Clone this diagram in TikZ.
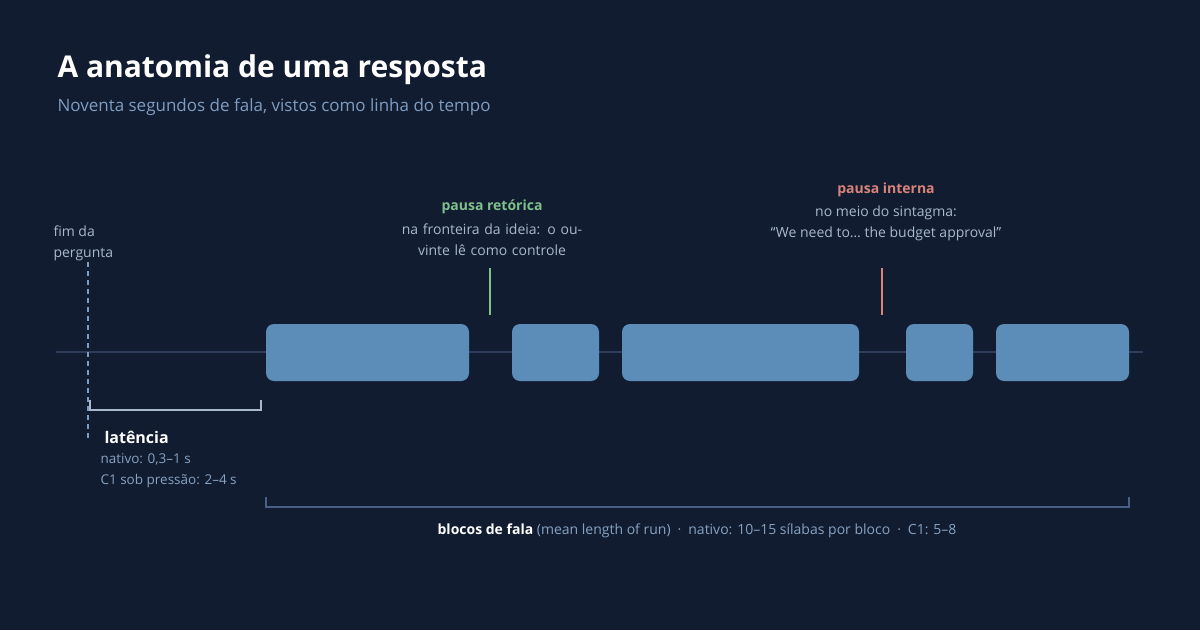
\documentclass[tikz,border=0pt]{standalone}
\usepackage{fontspec}
\setmainfont{Open Sans}
\definecolor{bgc}{HTML}{111C30}
\definecolor{blockc}{HTML}{5B8DB8}
\definecolor{axisc}{HTML}{2E3D5C}
\definecolor{textc}{HTML}{A9B8CC}
\definecolor{subc}{HTML}{7F9CC0}
\definecolor{greenc}{HTML}{7FBF8A}
\definecolor{redc}{HTML}{D9837A}
\definecolor{bracec}{HTML}{4A5F85}
\begin{document}
\begin{tikzpicture}[x=1pt,y=-1pt]
    \tikzset{block/.style={fill=blockc, rounded corners=8pt}}
    \tikzset{note/.style={text=textc, font=\fontsize{14}{21}\selectfont, align=center}}
    \tikzset{tick/.style={line width=2.5pt}}

    % background
    \fill[bgc] (0,0) rectangle (1200,630);
    \useasboundingbox (0,0) rectangle (1200,630);

    % title
    \node (title) [anchor=west, text=white, font=\fontsize{30}{36}\selectfont\bfseries] at (54,70) {A anatomia de uma resposta};
    \node (subtitle) [anchor=west, text=subc, font=\fontsize{17}{20}\selectfont] at (54,107) {Noventa segundos de fala, vistos como linha do tempo};

    % axis
    \coordinate (axis start) at (56,352);
    \coordinate (axis end)   at (1143,352);
    \draw[axisc, line width=1.5pt] (axis start) -- (axis end);

    % blocks
    \foreach \a/\b [count=\i] in {266/469, 512/599, 622/859, 906/973, 996/1129}
      \fill[block] (\a,324) rectangle (\b,381);

    % end of question
    \node (question) [anchor=north west, note, align=left] at (50,222) {fim da\\pergunta};
    \coordinate (q top)    at (88,262);
    \coordinate (q bottom) at (88,440);
    \draw[subc, line width=2pt, dash pattern=on 5pt off 4pt] (q top) -- (q bottom);

    % latency
    \coordinate (lat left)  at (90,400);
    \coordinate (lat right) at (261,400);
    \draw[textc, line width=1.5pt] (lat left) -- ++(0,10) -| (lat right);
    \node (latency) [anchor=west, text=white, font=\fontsize{16}{19}\selectfont\bfseries] at (101,437) {latência};
    \node (latency note) [anchor=north west, note, align=left, font=\fontsize{13.5}{21}\selectfont, text=subc!80!textc] at (97,450) {nativo: 0,3–1 s\\C1 sob pressão: 2–4 s};

    % rhetorical pause
    \coordinate (green top)    at (490,268);
    \coordinate (green bottom) at (490,315);
    \draw[greenc, tick] (green top) -- (green bottom);
    \node (green label) [note, text=greenc, font=\fontsize{14}{17}\selectfont\bfseries] at (492,207) {pausa retórica};
    \node (green note) [note, text width=280pt] at (492,240) {na fronteira da ideia: o ouvinte lê como controle};

    % internal pause
    \coordinate (red top)    at (882,268);
    \coordinate (red bottom) at (882,315);
    \draw[redc, tick] (red top) -- (red bottom);
    \node (red label) [note, text=redc, font=\fontsize{14}{17}\selectfont\bfseries] at (886,190) {pausa interna};
    \node (red note) [note] at (886,223) {no meio do sintagma:\\“We need to… the budget approval”};

    % speech blocks brace
    \coordinate (runs left)  at (266,497);
    \coordinate (runs right) at (1129,497);
    \draw[bracec, line width=1.5pt] (runs left) -- ++(0,10) -| (runs right);
    \node (runs) [note, text=subc!80!textc] at (697,531) {{\color{white}\bfseries blocos de fala} (mean length of run)\enspace·\enspace nativo: 10–15 sílabas por bloco\enspace·\enspace C1: 5–8};
\end{tikzpicture}
\end{document}
